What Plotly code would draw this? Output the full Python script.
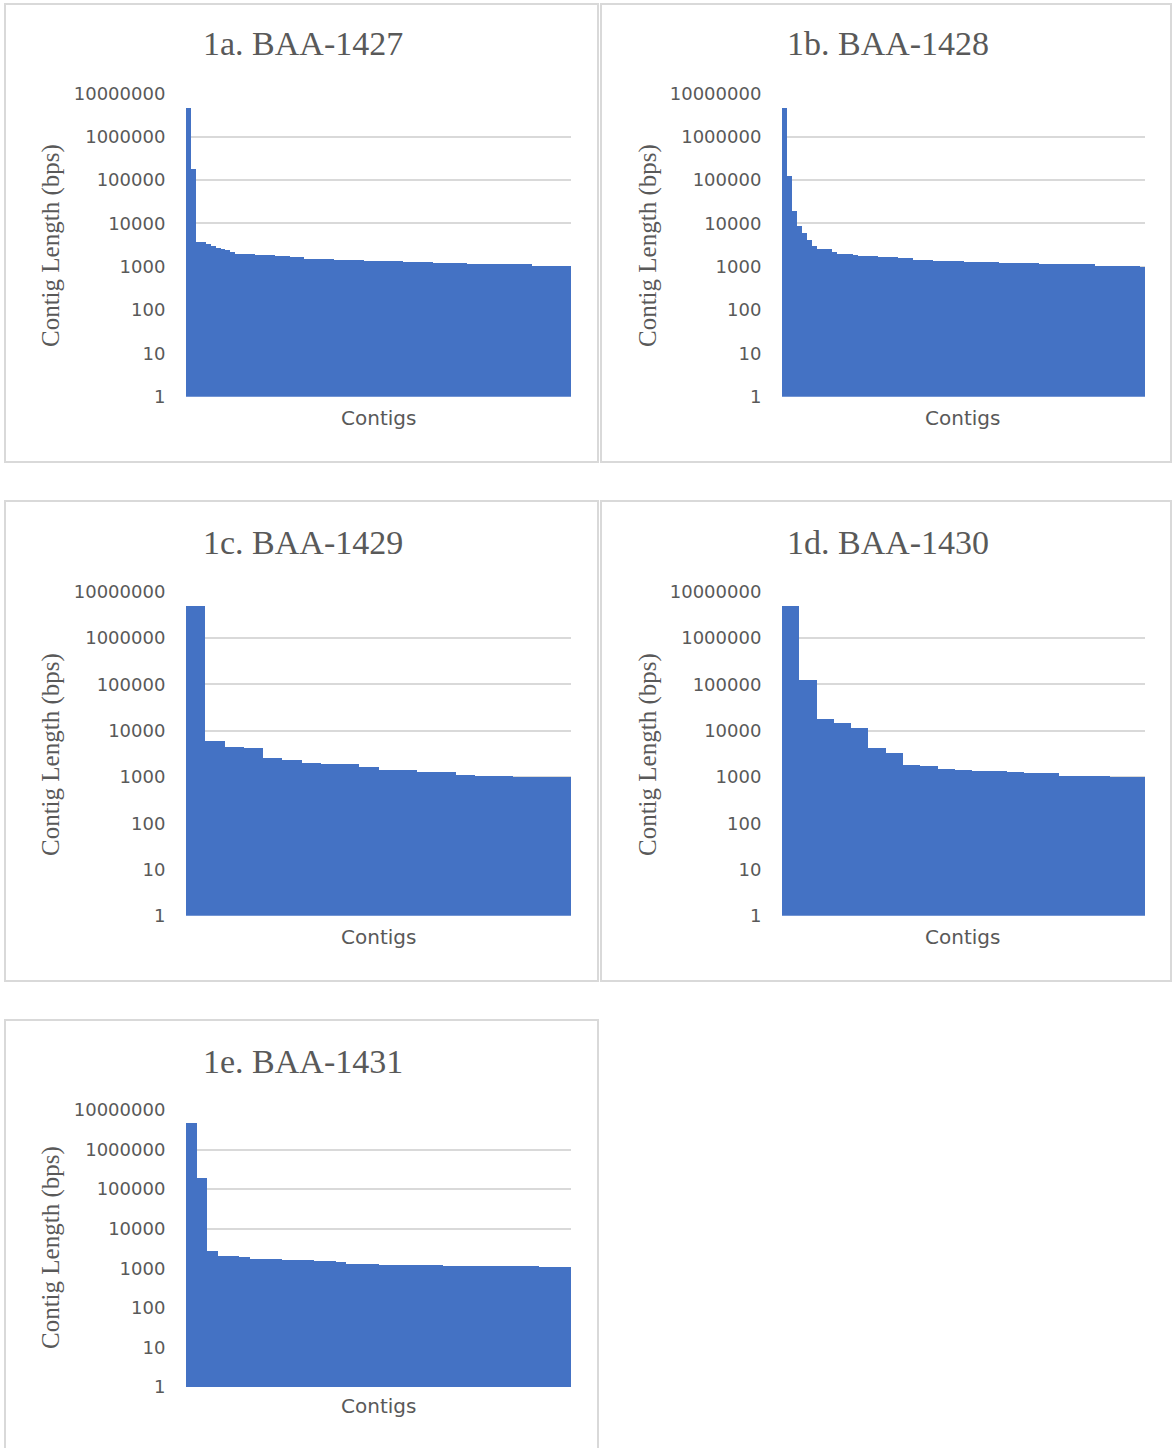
import plotly.graph_objects as go

W, H = 1173, 1448

# ---- data (contig lengths, bps, sorted descending) ----
titles = ["1a. BAA-1427", "1b. BAA-1428", "1c. BAA-1429", "1d. BAA-1430", "1e. BAA-1431"]

baa1427 = [4500000, 176000, 3650, 3640, 3280, 2890, 2650, 2510, 2340, 2100,
           1960, 1960, 1960, 1960, 1830, 1830, 1830, 1830, 1730, 1730, 1730,
           1610, 1610, 1610, 1500, 1500, 1500, 1500, 1500, 1500,
           1400, 1400, 1400, 1400, 1400, 1400,
           1330, 1330, 1330, 1330, 1330, 1330, 1330, 1330,
           1240, 1240, 1240, 1240, 1240, 1240,
           1170, 1170, 1170, 1170, 1170, 1170, 1170,
           1110, 1110, 1110, 1110, 1110, 1110, 1110, 1110, 1110, 1110, 1110, 1110, 1110,
           1020, 1020, 1020, 1020, 1020, 1020, 1020, 1020]

baa1428 = [4500000, 119000, 18600, 8400, 5900, 4000, 2900, 2560, 2560, 2560,
           2100, 1960, 1960, 1960, 1860, 1760, 1760, 1760, 1760,
           1640, 1640, 1640, 1640, 1530, 1530, 1530, 1420, 1420, 1420, 1420,
           1330, 1330, 1330, 1330, 1330, 1330,
           1260, 1260, 1260, 1260, 1260, 1260, 1260,
           1190, 1190, 1190, 1190, 1190, 1190, 1190, 1190,
           1110, 1110, 1110, 1110, 1110, 1110, 1110, 1110, 1110, 1110, 1110,
           1040, 1040, 1040, 1040, 1040, 1040, 1040, 1040, 1040, 990]

baa1429 = [4900000, 6190, 4590, 4300, 2650, 2360, 2070, 1940, 1930, 1640,
           1440, 1430, 1280, 1270, 1140, 1070, 1060, 1000, 998, 995]

baa1430 = [4900000, 125000, 18200, 14900, 11800, 4300, 3350, 1880, 1750, 1540,
           1460, 1370, 1360, 1280, 1220, 1210, 1085, 1080, 1075, 1000, 995]

baa1431 = [4600000, 187000, 2730, 2040, 2030, 1890, 1750, 1745, 1740,
           1620, 1615, 1610, 1530, 1525, 1410, 1310, 1305, 1300,
           1210, 1210, 1210, 1210, 1210, 1210,
           1120, 1120, 1120, 1120, 1120, 1120, 1120, 1120, 1120,
           1057, 1057, 1057]

series = [baa1427, baa1428, baa1429, baa1430, baa1431]

tick_vals = [1, 10, 100, 1000, 10000, 100000, 1000000, 10000000]
tick_text = ["1", "10", "100", "1000", "10000", "100000", "1000000", "10000000"]

# ---- layout geometry (pixels) ----
plot_px = [(186, 571, 93.3, 396.7), (782, 1145, 93.3, 396.7),
           (186, 571, 591.7, 915.8), (782, 1145, 591.7, 915.8),
           (186, 571, 1110, 1387)]
# panel boxes: (x0, x1, y0, y1); last one runs off the bottom edge (open at bottom)
box_px = [(5, 598, 4, 462), (601, 1171, 4, 462),
          (5, 598, 501, 981), (601, 1171, 501, 981),
          (5, 598, 1020, None)]
title_px = [(303, 44), (888, 44), (303, 542), (888, 542), (303, 1061)]
ytitle_px = [(51, 246), (648, 246), (51, 755), (648, 755), (51, 1248)]
xtitle_px = [(378, 418), (962, 418), (378, 937), (962, 937), (378, 1406)]

def fx(x):
    return x / W

def fy(y):
    return 1 - y / H

GRAY = "#595959"
GRID = "#d9d9d9"
BAR = "#4472C4"

fig = go.Figure()
shapes = []
annotations = []
layout_axes = {}

for i, vals in enumerate(series):
    n = i + 1
    xa = "x" if n == 1 else f"x{n}"
    ya = "y" if n == 1 else f"y{n}"
    fig.add_trace(go.Bar(
        x=list(range(1, len(vals) + 1)), y=vals,
        xaxis=xa, yaxis=ya,
        marker=dict(color=BAR, line=dict(width=0)),
        showlegend=False, hoverinfo="y",
    ))
    x0, x1, yt, yb = plot_px[i]
    xkey = "xaxis" if n == 1 else f"xaxis{n}"
    ykey = "yaxis" if n == 1 else f"yaxis{n}"
    layout_axes[xkey] = dict(
        domain=[fx(x0), fx(x1)], anchor=ya,
        range=[0.5, len(vals) + 0.5],
        showticklabels=False, showgrid=False, zeroline=False,
        showline=False, ticks="", automargin=False,
    )
    layout_axes[ykey] = dict(
        domain=[fy(yb), fy(yt)], anchor=xa,
        type="log", range=[0, 7],
        tickvals=tick_vals, ticktext=tick_text,
        showgrid=True, gridcolor=GRID, gridwidth=1.5,
        zeroline=False, showline=False,
        ticks="outside", ticklen=16, tickcolor="rgba(0,0,0,0)",
        tickfont=dict(family="DejaVu Sans", size=18, color=GRAY),
        automargin=False,
    )
    bx0, bx1, by0, by1 = box_px[i]
    if by1 is not None:
        shapes.append(dict(type="rect", xref="paper", yref="paper",
                           x0=fx(bx0), x1=fx(bx1), y0=fy(by1), y1=fy(by0),
                           line=dict(color=GRID, width=2), layer="below"))
    else:
        shapes.append(dict(type="path", xref="paper", yref="paper",
                           path=f"M {fx(bx0)} 0 L {fx(bx0)} {fy(by0)} L {fx(bx1)} {fy(by0)} L {fx(bx1)} 0",
                           line=dict(color=GRID, width=2), layer="below"))
    tx, ty = title_px[i]
    annotations.append(dict(text=titles[i], x=fx(tx), y=fy(ty), xref="paper", yref="paper",
                            xanchor="center", yanchor="middle", showarrow=False,
                            font=dict(family="Liberation Serif", size=34, color=GRAY)))
    tx, ty = ytitle_px[i]
    annotations.append(dict(text="Contig Length (bps)", x=fx(tx), y=fy(ty), xref="paper", yref="paper",
                            xanchor="center", yanchor="middle", showarrow=False, textangle=-90,
                            font=dict(family="Liberation Serif", size=25, color=GRAY)))
    tx, ty = xtitle_px[i]
    annotations.append(dict(text="Contigs", x=fx(tx), y=fy(ty), xref="paper", yref="paper",
                            xanchor="center", yanchor="middle", showarrow=False,
                            font=dict(family="DejaVu Sans", size=20, color=GRAY)))

fig.update_layout(
    width=W, height=H, autosize=False,
    margin=dict(l=0, r=0, t=0, b=0, pad=0, autoexpand=False),
    paper_bgcolor="white", plot_bgcolor="white",
    bargap=0,
    shapes=shapes, annotations=annotations,
    **layout_axes,
)

fig.write_html(
    "out.html",
    config={"displayModeBar": False},
    post_script=(
        "document.documentElement.style.margin='0';document.body.style.margin='0';"
        "document.body.style.padding='0';document.body.style.overflow='hidden';"
    ),
)
